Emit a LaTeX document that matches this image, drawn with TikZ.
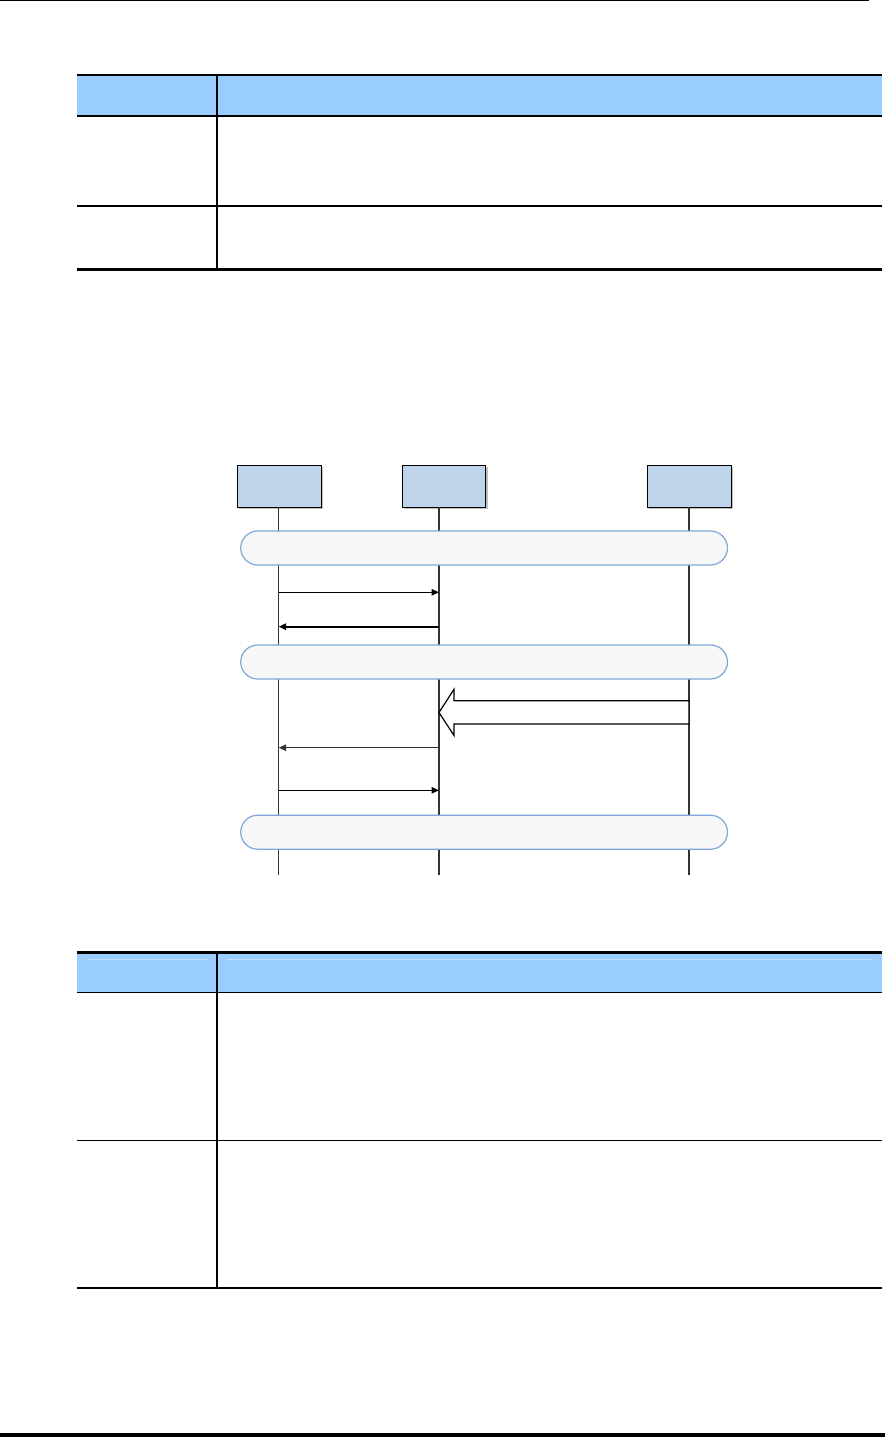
\documentclass[tikz,border=0pt]{standalone}
\usetikzlibrary{arrows.meta,calc}
\definecolor{hdr}{HTML}{99CCFF}
\definecolor{hdrline}{HTML}{C4E0FF}
\definecolor{boxfill}{HTML}{BDD4EA}
\definecolor{barfill}{HTML}{F7F7F7}
\definecolor{barline}{HTML}{7EA6D8}
\definecolor{life}{HTML}{333333}
\begin{document}
\begin{tikzpicture}[x=1pt,y=-1pt,
  thickrule/.style={line width=2.6pt,black},
  thinrule/.style={line width=1.3pt,black},
  entity/.style={draw=black,line width=1pt,fill=boxfill,minimum width=84pt,minimum height=42pt,inner sep=0pt},
  shade/.style={fill=black!25,draw=none,minimum width=84pt,minimum height=42pt,inner sep=0pt},
  phase/.style={draw=barline,line width=1.2pt,fill=barfill,rounded corners=17pt,minimum width=486.8pt,minimum height=34pt,inner sep=0pt},
  lifeline/.style={draw=life,line width=1.4pt},
  msg/.style={draw=black,line width=1.1pt,-{Triangle[length=7.5pt,width=6.5pt]}},
  bigarrow/.style={draw=black,line width=1.2pt,fill=white,line join=miter}]
\useasboundingbox (0,0) rectangle (885,1437);
% page rules
\draw[line width=1pt] (0,0.5) -- (869,0.5);
\draw[line width=3.7pt] (0,1435.2) -- (885,1435.2);
% table 1
\fill[hdr] (77,76) rectangle (882,116);
\draw[thickrule] (77,75) -- (882,75);
\draw[thinrule] (77,116) -- (882,116);
\draw[thinrule] (77,206) -- (882,206);
\draw[thickrule] (77,269.5) -- (882,269.5);
\draw[thinrule] (217,75) -- (217,269.5);
% table 2
\fill[hdr] (77,953) rectangle (882,992.5);
\draw[line width=0.8pt,hdrline] (88,959.3) -- (208,959.3);
\draw[line width=0.8pt,hdrline] (227,959.3) -- (873,959.3);
\draw[thickrule] (77,952.5) -- (882,952.5);
\draw[thinrule] (77,992.7) -- (882,992.7);
\draw[thinrule] (77,1140.3) -- (882,1140.3);
\draw[thickrule] (77,1288) -- (882,1288);
\draw[thinrule] (217,952.5) -- (217,1288);
% entities (shadows first)
\node[shade] at (280.8,487.8) {};
\node[shade] at (445.5,487.8) {};
\node[shade] at (690.8,487.8) {};
\node[entity] (A) at (279.3,486.3) {};
\node[entity,minimum width=83.4pt] (B) at (444,486.3) {};
\node[entity] (C) at (689.3,486.3) {};
% lifeline ends
\coordinate (Aend) at (278.7,875);
\coordinate (Bend) at (439,875);
\coordinate (Cend) at (689,875);
\draw[lifeline] (278.7,507.3) -- (Aend);
\draw[lifeline] (439,507.3) -- (Bend);
\draw[lifeline] (689,507.3) -- (Cend);
% phase bars
\node[phase] (P1) at (484.1,548) {};
\node[phase] (P2) at (484.1,662) {};
\node[phase] (P3) at (484.1,832.2) {};
% messages
\coordinate (a1) at (278.7,592.3); \coordinate (b1) at (439,592.3);
\coordinate (b2) at (439,626.7); \coordinate (a2) at (278.7,626.7);
\coordinate (b3) at (439,747.7); \coordinate (a3) at (278.7,747.7);
\coordinate (a4) at (278.7,790.3); \coordinate (b4) at (439,790.3);
\draw[msg] (a1) -- (b1);
\draw[msg,line width=1.7pt] (b2) -- (a2);
\draw[msg,draw=life,line width=1.4pt] (b3) -- (a3);
\draw[msg] (a4) -- (b4);
% block arrow from C lifeline to B lifeline
\coordinate (ctail) at (689,712.35);
\coordinate (btip) at (439,712.5);
\draw[bigarrow] ($(ctail)+(0,-11.65)$) -- (454,700.7) -- (454,689.3) -- (btip)
  -- (454,735.5) -- (454,724) -- ($(ctail)+(0,11.65)$) -- cycle;
\end{tikzpicture}
\end{document}
